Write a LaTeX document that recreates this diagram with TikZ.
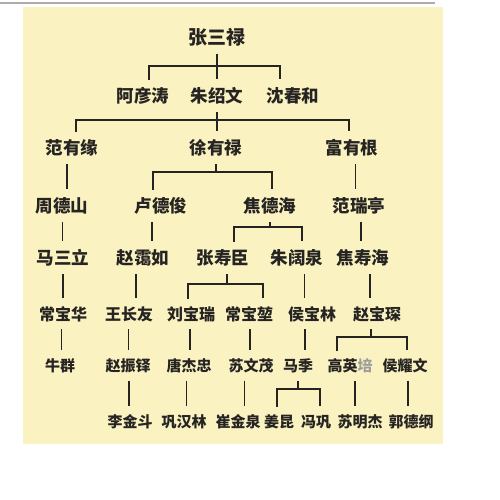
\documentclass[tikz,border=0pt]{standalone}
\usepackage{fontspec}
\setmainfont{Noto Sans CJK SC}
\usetikzlibrary{calc}
\usepackage{xcolor}
\definecolor{paper}{RGB}{251,242,194}
\definecolor{ink}{RGB}{38,36,34}
\colorlet{rule}{black!32}

% vertical line half way between two generations
\newcommand{\heir}[2]{\draw [link] let \p1=(#1.south), \p2=(#2.north)
  in ({(\x1+\x2)/2},\y1) -- ({(\x1+\x2)/2},\y2);}

\begin{document}
\begin{tikzpicture}[ x=1pt, y=-1pt
                   , person/.style={inner sep=0pt, text height=14.5pt, text depth=1.2pt,
                                    text=ink, font=\bfseries\fontsize{17.5}{17.5}\selectfont}
                   , elder/.style={person, text height=15.8pt, text depth=1.3pt,
                                   font=\bfseries\fontsize{19}{19}\selectfont}
                   , pupil/.style={person, text height=13.3pt, text depth=1.1pt,
                                   font=\bfseries\fontsize{16}{16}\selectfont}
                   , junior/.style={person, text height=12.5pt, text depth=1pt,
                                    font=\bfseries\fontsize{15}{15}\selectfont}
                   , link/.style={draw=ink, line width=1.9pt, shorten <=8pt, shorten >=9pt}
                   , stem/.style={link, shorten >=0pt}
                   ]

      \useasboundingbox (0,0) rectangle (500,500);
      \draw [rule, line width=1.2pt] (0,3) -- (435,3);
      \fill [paper] (23,7) rectangle (443,444);

      % generation 0 and 1
      \node (zsl) [elder] at (217,37) {张三禄};
      \node (ayt) [person] at (143,96) {阿彦涛};
      \node (zsw) [person] at (217,96) {朱绍文};
      \node (sch) [person] at (293,96) {沈春和};

      % generation 2
      \node (fyy) [person] at (72,148)  {范有缘};
      \node (xyl) [person] at (216,148) {徐有禄};
      \node (fyg) [person] at (352,148) {富有根};

      % generation 3
      \node (zds) [person] at (62,206)  {周德山};
      \node (ldj) [person] at (161,206) {卢德俊};
      \node (jdh) [person] at (270,206) {焦德海};
      \node (frt) [person] at (359,206) {范瑞亭};

      % generation 4
      \node (msl) [person] at (63,258)  {马三立};
      \node (zar) [person] at (143,258) {赵霭如};
      \node (zsc) [person] at (223,258) {张寿臣};
      \node (zkq) [person] at (297,258) {朱阔泉};
      \node (jsh) [person] at (363,258) {焦寿海};

      % generation 5
      \node (cbh) [pupil] at (63,314)  {常宝华};
      \node (wcy) [pupil] at (129,314) {王长友};
      \node (lbr) [pupil] at (191,314) {刘宝瑞};
      \node (cbk) [pupil] at (249,314) {常宝堃};
      \node (hbl) [pupil] at (312,314) {侯宝林};
      \node (zbc) [pupil] at (377,314) {赵宝琛};

      % generation 6
      \node (nq)  [junior] at (60,366)  {牛群};
      \node (zzd) [junior] at (128,366) {赵振铎};
      \node (tjz) [junior] at (189,366) {唐杰忠};
      \node (swm) [junior] at (251,366) {苏文茂};
      \node (mj)  [junior] at (298,366) {马季};
      \node (gyp) [junior] at (350,366) {高英\textcolor{ink!45}{培}};
      \node (hyw) [junior] at (405,366) {侯耀文};

      % generation 7
      \node (ljd) [junior] at (130,422) {李金斗};
      \node (ghl) [junior] at (184,422) {巩汉林};
      \node (cjq) [junior] at (238,422) {崔金泉};
      \node (jk)  [junior] at (279,422) {姜昆};
      \node (fg)  [junior] at (316,422) {冯巩};
      \node (smj) [junior] at (360,422) {苏明杰};
      \node (gdg) [junior] at (411,422) {郭德纲};

      % brackets
      \coordinate (j0) at (217,66);
      \coordinate (j1) at (216,120);
      \coordinate (j2) at (216,172);
      \coordinate (j3) at (270,227);
      \coordinate (j4) at (227,284);
      \coordinate (j5) at (371,337);
      \coordinate (j6) at (298,389);

      \draw [link] (zsl.south) -- (zsl.south |- zsw.north);
      \draw [link] ([xshift=6pt]ayt.north) |- (j0) -| ([xshift=-13pt]sch.north);
      \draw [link] (zsw.south) -- (zsw.south |- xyl.north);
      \draw [link] ([xshift=4pt]fyy.north) |- (j1) -| ([xshift=-3pt]fyg.north);
      \draw [stem] (xyl.south) -- (j2);
      \draw [link] ([xshift=-8pt]ldj.north) |- (j2) -| ([xshift=2pt]jdh.north);
      \draw [stem] (jdh.south) -- (j3);
      \draw [link] ([xshift=11pt]zsc.north) |- (j3) -| ([xshift=5pt]zkq.north);
      \draw [stem] ([xshift=4pt]zsc.south) -- (j4);
      \draw [link] ([xshift=-3pt]lbr.north) |- (j4) -| ([xshift=14pt]cbk.north);
      \draw [stem] ([xshift=-6pt]zbc.south) -- (j5);
      \draw [link] ([xshift=-13pt]gyp.north) |- (j5) -| ([xshift=2pt]hyw.north);
      \draw [stem] (mj.south) -- (j6);
      \draw [link] ([xshift=-2pt]jk.north) |- (j6) -| ([xshift=4pt]fg.north);

      % single lines
      \heir{fyy}{zds} \heir{fyg}{frt}
      \heir{zds}{msl} \heir{ldj}{zar} \heir{frt}{jsh}
      \heir{msl}{cbh} \heir{zar}{wcy} \heir{zkq}{hbl} \heir{jsh}{zbc}
      \heir{cbh}{nq}  \heir{wcy}{zzd} \heir{lbr}{tjz} \heir{cbk}{swm} \heir{hbl}{mj}
      \heir{zzd}{ljd} \heir{tjz}{ghl} \heir{swm}{cjq} \heir{gyp}{smj} \heir{hyw}{gdg}

  \end{tikzpicture}
\end{document}
